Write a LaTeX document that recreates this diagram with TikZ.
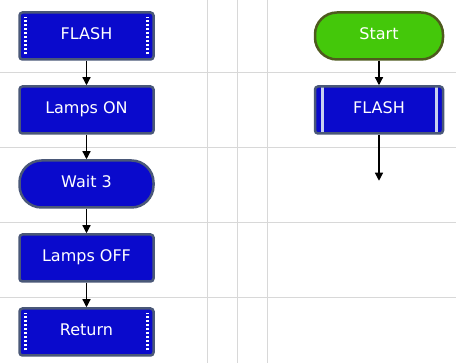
\documentclass[tikz,border=0pt]{standalone}
\usepackage{fontspec}
\setmainfont{DejaVu Sans}
\usetikzlibrary{arrows.meta,positioning}
\definecolor{fcblue}{HTML}{0A0ACC}
\definecolor{fcedge}{HTML}{4A5878}
\definecolor{fcgreen}{HTML}{44C80A}
\definecolor{fcolive}{HTML}{4E5A1E}
\definecolor{fcgrid}{HTML}{D8D8D8}
\definecolor{fcstripe}{HTML}{C8D0F0}

\begin{document}
\begin{tikzpicture}[
      x=1pt,y=1pt,
      font=\fontsize{16}{18}\selectfont,
      block/.style={draw=fcedge,line width=2.5pt,fill=fcblue,text=white,rounded corners=3pt,
        minimum width=134pt,minimum height=47pt,inner sep=0pt,text height=0.72em,text depth=0pt},
      macro/.style={block,path picture={
        \foreach \s/\a/\b in {6/south west/north west,-6/south east/north east}
          \draw[white,line width=2.5pt,dash pattern=on 2pt off 2pt]
            ([xshift=\s pt,yshift=5pt]path picture bounding box.\a) --
            ([xshift=\s pt,yshift=-5pt]path picture bounding box.\b);}},
      callbox/.style={block,minimum width=128pt,path picture={
        \foreach \s/\a/\b in {7/south west/north west,-7/south east/north east}
          \draw[fcstripe,line width=3pt]
            ([xshift=\s pt]path picture bounding box.\a) --
            ([xshift=\s pt]path picture bounding box.\b);}},
      delay/.style={block,rounded corners=22pt},
      terminal/.style={block,draw=fcolive,fill=fcgreen,rounded corners=22pt,minimum width=128pt},
      flow/.style={-{Triangle[length=8pt,width=8pt]},line width=1.2pt}
    ]
    \useasboundingbox (0,0) rectangle (456,363);
    % background grid
    \foreach \y in {290,215,140,65}
      \draw[fcgrid,line width=1pt] (0,\y) -- (456,\y);
    \foreach \x in {207,237,267}
      \draw[fcgrid,line width=1pt] (\x,0) -- (\x,363);

    % macro FLASH
    \node[macro] (flash) at (86.5,327) {FLASH};
    \node[block,below=24.5pt of flash] (lampson) {Lamps ON};
    \node[delay,below=24.5pt of lampson] (wait) {Wait 3};
    \node[block,below=24.5pt of wait] (lampsoff) {Lamps OFF};
    \node[macro,below=24.5pt of lampsoff] (ret) {Return};
    \draw[flow] (flash) -- (lampson);
    \draw[flow] (lampson) -- (wait);
    \draw[flow] (wait) -- (lampsoff);
    \draw[flow] (lampsoff) -- (ret);

    % main
    \node[terminal] (start) at (379,327) {Start};
    \node[callbox,below=24.5pt of start] (callflash) {FLASH};
    \coordinate[below=46pt of callflash] (mainend);
    \draw[flow] (start) -- (callflash);
    \draw[flow] (callflash) -- (mainend);
  \end{tikzpicture}
\end{document}
